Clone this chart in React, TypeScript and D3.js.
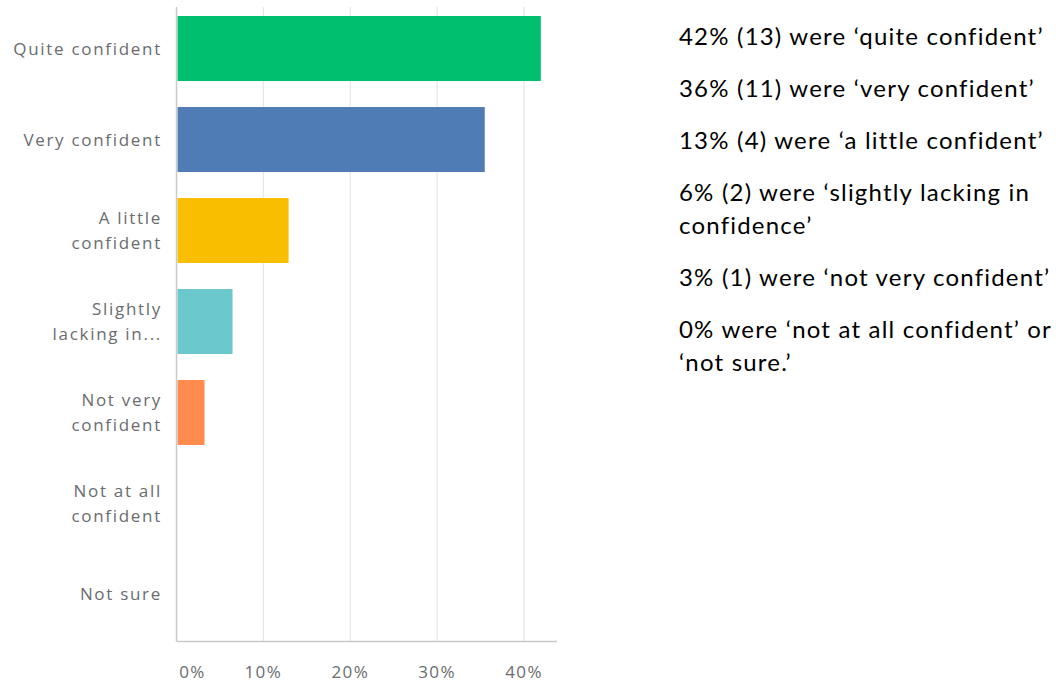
import React from "react";
import * as d3 from "d3";

const categories: string[][] = [
  ["Quite confident"],
  ["Very confident"],
  ["A little", "confident"],
  ["Slightly", "lacking in..."],
  ["Not very", "confident"],
  ["Not at all", "confident"],
  ["Not sure"],
];
const counts: number[] = [13, 11, 4, 2, 1, 0, 0];
const total = 31;
const values: number[] = counts.map((c) => (c / total) * 100);
const colors: string[] = ["#00bf6f", "#507cb6", "#f9be00", "#6bc8cd", "#ff8b4f", "#a0a0a0", "#a0a0a0"];
const ticks: number[] = [0, 10, 20, 30, 40];
const summary: string[][] = [
  ["42% (13) were \u2018quite confident\u2019"],
  ["36% (11) were \u2018very confident\u2019"],
  ["13% (4) were \u2018a little confident\u2019"],
  ["6% (2) were \u2018slightly lacking in", "confidence\u2019"],
  ["3% (1) were \u2018not very confident\u2019"],
  ["0% were \u2018not at all confident\u2019 or", "\u2018not sure.\u2019"],
];

export default function App() {
  const W = 1061;
  const H = 683;
  const x0 = 176.5;
  const x = d3.scaleLinear().domain([0, 43.8]).range([x0, 557]);
  const y = d3
    .scaleBand<number>()
    .domain(d3.range(categories.length))
    .range([2, 641])
    .paddingInner(0.286)
    .paddingOuter(0.154);
  const axisTop = 7;
  const axisBottom = 641.5;
  const labelFont = "'Open Sans', sans-serif";
  const labelColor = "#6a6c6f";
  const lineGap = 25;

  const sx = 679;
  let cy = 45;
  const summaryLines: { text: string; y: number }[] = [];
  summary.forEach((para) => {
    para.forEach((line, i) => {
      if (i > 0) cy += 33;
      summaryLines.push({ text: line, y: cy });
    });
    cy += 52;
  });

  return (
    <svg
      width={W}
      height={H}
      style={{ position: "absolute", left: 0, top: 0, background: "#fff" }}
    >
      {ticks.slice(1).map((t) => (
        <line
          key={"g" + t}
          x1={x(t)}
          x2={x(t)}
          y1={axisTop}
          y2={axisBottom}
          stroke="#e6e6e6"
          strokeWidth={1.2}
        />
      ))}
      {values.map((v, i) =>
        v > 0 ? (
          <rect
            key={"b" + i}
            x={x0 + 1}
            y={y(i)!}
            width={x(v) - x0 - 1}
            height={y.bandwidth()}
            fill={colors[i]}
          />
        ) : null
      )}
      <line x1={x0} x2={x0} y1={axisTop} y2={axisBottom} stroke="#c9c9c9" strokeWidth={1.5} />
      <line x1={x0} x2={557} y1={axisBottom} y2={axisBottom} stroke="#c9c9c9" strokeWidth={1.5} />
      {categories.map((lines, i) => {
        const c = y(i)! + y.bandwidth() / 2;
        const start = c - ((lines.length - 1) * lineGap) / 2;
        return (
          <text
            key={"l" + i}
            textAnchor="end"
            fontFamily={labelFont}
            fontSize={17}
            fill={labelColor}
            letterSpacing={1.7}
          >
            {lines.map((ln, j) => (
              <tspan key={j} x={162} y={start + j * lineGap + 6}>
                {ln}
              </tspan>
            ))}
          </text>
        );
      })}
      {ticks.map((t, i) => (
        <text
          key={"t" + t}
          x={i === 0 ? x(t) + 16 : x(t)}
          y={678}
          textAnchor="middle"
          fontFamily={labelFont}
          fontSize={17}
          fill={labelColor}
          letterSpacing={1.4}
        >
          {t}%
        </text>
      ))}
      {summaryLines.map((s, i) => (
        <text
          key={"s" + i}
          x={sx}
          y={s.y}
          fontFamily="Lato, sans-serif"
          fontSize={24}
          letterSpacing={1.2}
          fill="#000"
        >
          {s.text}
        </text>
      ))}
    </svg>
  );
}
